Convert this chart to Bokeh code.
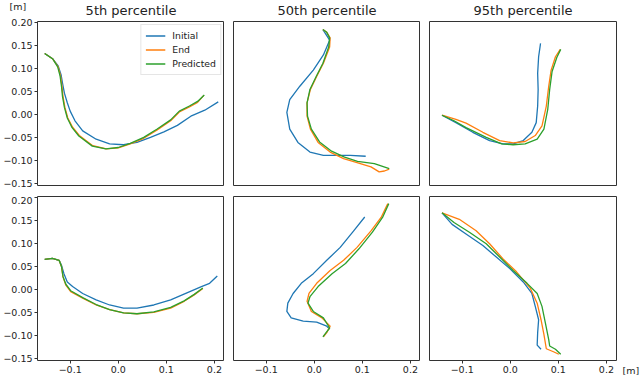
from bokeh.plotting import figure
from bokeh.layouts import gridplot
from bokeh.models import FixedTicker, Legend, LegendItem, Range1d, PrintfTickFormatter, Title
from bokeh.embed import file_html
from bokeh.resources import INLINE

# ---------------- data ----------------
titles = ["5th percentile", "50th percentile", "95th percentile"]
series_names = ["Initial", "End", "Predicted"]
unit_label = "[m]"

x_ticks = [-0.1, 0.0, 0.1, 0.2]
x_tick_labels = ["\u22120.1", "0.0", "0.1", "0.2"]
y_ticks = [-0.15, -0.10, -0.05, 0.0, 0.05, 0.10, 0.15, 0.20]
y_tick_labels = ["\u22120.15", "\u22120.10", "\u22120.05", "0.00", "0.05", "0.10", "0.15", "0.20"]

# row 1, 5th percentile
t1_init_x = [-0.153, -0.136, -0.125, -0.119, -0.116, -0.112, -0.106, -0.100, -0.090, -0.074, -0.046, -0.018, 0.011, 0.039, 0.067, 0.095, 0.123, 0.151, 0.180, 0.208]
t1_init_y = [0.132, 0.120, 0.105, 0.086, 0.068, 0.046, 0.025, 0.007, -0.014, -0.036, -0.054, -0.064, -0.066, -0.061, -0.050, -0.038, -0.024, -0.004, 0.009, 0.027]
t1_end_x = [-0.153, -0.136, -0.125, -0.120, -0.117, -0.115, -0.111, -0.105, -0.095, -0.081, -0.053, -0.025, 0.000, 0.025, 0.053, 0.081, 0.109, 0.127, 0.148, 0.165, 0.178]
t1_end_y = [0.132, 0.120, 0.103, 0.083, 0.060, 0.039, 0.015, -0.008, -0.028, -0.046, -0.068, -0.075, -0.073, -0.064, -0.052, -0.034, -0.014, 0.005, 0.016, 0.026, 0.041]
t1_pred_x = [-0.153, -0.136, -0.126, -0.121, -0.118, -0.116, -0.112, -0.106, -0.096, -0.082, -0.054, -0.026, 0.000, 0.025, 0.053, 0.081, 0.109, 0.127, 0.148, 0.165, 0.179]
t1_pred_y = [0.132, 0.120, 0.103, 0.083, 0.060, 0.039, 0.015, -0.008, -0.029, -0.047, -0.069, -0.075, -0.072, -0.063, -0.050, -0.032, -0.012, 0.007, 0.018, 0.028, 0.042]

# row 1, 50th percentile
t2_init_x = [0.018, 0.032, 0.019, -0.002, -0.030, -0.051, -0.057, -0.051, -0.034, -0.009, 0.019, 0.047, 0.075, 0.107]
t2_init_y = [0.184, 0.161, 0.129, 0.096, 0.061, 0.032, 0.004, -0.032, -0.061, -0.082, -0.089, -0.089, -0.089, -0.091]
t2_end_x = [0.018, 0.026, 0.033, 0.032, 0.019, 0.005, -0.008, -0.015, -0.015, -0.008, 0.008, 0.033, 0.061, 0.089, 0.118, 0.135, 0.146, 0.156]
t2_end_y = [0.184, 0.178, 0.166, 0.146, 0.111, 0.082, 0.054, 0.025, -0.004, -0.032, -0.061, -0.082, -0.096, -0.105, -0.114, -0.125, -0.123, -0.119]
t2_pred_x = [0.018, 0.026, 0.032, 0.030, 0.018, 0.004, -0.009, -0.015, -0.014, -0.006, 0.011, 0.036, 0.063, 0.090, 0.125, 0.156]
t2_pred_y = [0.184, 0.178, 0.166, 0.146, 0.111, 0.082, 0.054, 0.025, -0.004, -0.032, -0.060, -0.080, -0.093, -0.102, -0.107, -0.118]

# row 1, 95th percentile
t3_init_x = [0.063, 0.059, 0.057, 0.058, 0.057, 0.054, 0.045, 0.027, 0.006, -0.015, -0.043, -0.078, -0.113, -0.142]
t3_init_y = [0.154, 0.125, 0.089, 0.054, 0.018, -0.018, -0.039, -0.057, -0.064, -0.064, -0.057, -0.039, -0.018, -0.002]
t3_end_x = [0.104, 0.094, 0.085, 0.080, 0.075, 0.066, 0.052, 0.031, 0.006, -0.022, -0.057, -0.092, -0.113, -0.142]
t3_end_y = [0.141, 0.125, 0.096, 0.061, 0.018, -0.025, -0.046, -0.059, -0.062, -0.057, -0.039, -0.019, -0.011, -0.002]
t3_pred_x = [0.105, 0.097, 0.087, 0.082, 0.078, 0.070, 0.056, 0.031, 0.006, -0.018, -0.050, -0.092, -0.117, -0.142]
t3_pred_y = [0.141, 0.124, 0.093, 0.054, 0.011, -0.032, -0.054, -0.064, -0.066, -0.064, -0.050, -0.029, -0.014, -0.002]

# row 2, 5th percentile
b1_init_x = [-0.153, -0.137, -0.123, -0.118, -0.113, -0.106, -0.095, -0.074, -0.046, -0.018, 0.011, 0.039, 0.074, 0.109, 0.144, 0.173, 0.190, 0.206]
b1_init_y = [0.065, 0.067, 0.063, 0.052, 0.034, 0.016, 0.006, -0.009, -0.023, -0.034, -0.041, -0.041, -0.034, -0.023, -0.007, 0.006, 0.013, 0.029]
b1_end_x = [-0.153, -0.137, -0.123, -0.118, -0.115, -0.109, -0.099, -0.074, -0.046, -0.018, 0.011, 0.039, 0.074, 0.109, 0.137, 0.158, 0.176]
b1_end_y = [0.065, 0.067, 0.063, 0.049, 0.027, 0.009, -0.005, -0.019, -0.034, -0.044, -0.051, -0.053, -0.050, -0.041, -0.026, -0.012, 0.002]
b1_pred_x = [-0.153, -0.137, -0.123, -0.118, -0.115, -0.109, -0.099, -0.074, -0.046, -0.018, 0.011, 0.039, 0.074, 0.109, 0.137, 0.158, 0.176]
b1_pred_y = [0.065, 0.067, 0.063, 0.049, 0.028, 0.011, -0.003, -0.018, -0.033, -0.044, -0.051, -0.053, -0.049, -0.039, -0.025, -0.011, 0.003]

# row 2, 50th percentile
b2_init_x = [0.105, 0.082, 0.054, 0.026, -0.002, -0.027, -0.044, -0.055, -0.057, -0.048, -0.023, 0.005, 0.026, 0.032]
b2_init_y = [0.157, 0.127, 0.091, 0.063, 0.034, 0.013, -0.009, -0.030, -0.048, -0.062, -0.069, -0.071, -0.080, -0.086]
b2_end_x = [0.153, 0.139, 0.118, 0.089, 0.061, 0.033, 0.005, -0.011, -0.015, -0.006, 0.016, 0.033, 0.026, 0.019]
b2_end_y = [0.186, 0.156, 0.127, 0.091, 0.063, 0.041, 0.013, -0.009, -0.026, -0.048, -0.062, -0.080, -0.094, -0.103]
b2_pred_x = [0.155, 0.142, 0.121, 0.093, 0.065, 0.037, 0.008, -0.009, -0.013, -0.002, 0.019, 0.032, 0.023, 0.018]
b2_pred_y = [0.186, 0.156, 0.124, 0.088, 0.056, 0.034, 0.006, -0.016, -0.030, -0.048, -0.062, -0.084, -0.096, -0.103]

# row 2, 95th percentile
b3_init_x = [-0.142, -0.121, -0.092, -0.057, -0.029, -0.001, 0.027, 0.045, 0.052, 0.059, 0.057, 0.056, 0.064]
b3_init_y = [0.166, 0.141, 0.120, 0.095, 0.070, 0.045, 0.016, -0.009, -0.037, -0.066, -0.094, -0.121, -0.130]
b3_end_x = [-0.142, -0.106, -0.071, -0.043, -0.015, 0.013, 0.042, 0.056, 0.064, 0.070, 0.075, 0.091, 0.101]
b3_end_y = [0.166, 0.152, 0.127, 0.099, 0.066, 0.038, 0.002, -0.030, -0.066, -0.098, -0.129, -0.136, -0.141]
b3_pred_x = [-0.142, -0.117, -0.085, -0.050, -0.022, 0.006, 0.035, 0.056, 0.066, 0.073, 0.080, 0.082, 0.094, 0.105]
b3_pred_y = [0.166, 0.145, 0.124, 0.099, 0.070, 0.041, 0.013, -0.009, -0.037, -0.073, -0.109, -0.123, -0.130, -0.141]

panels = [
    [(t1_init_x, t1_init_y, t1_end_x, t1_end_y, t1_pred_x, t1_pred_y),
     (t2_init_x, t2_init_y, t2_end_x, t2_end_y, t2_pred_x, t2_pred_y),
     (t3_init_x, t3_init_y, t3_end_x, t3_end_y, t3_pred_x, t3_pred_y)],
    [(b1_init_x, b1_init_y, b1_end_x, b1_end_y, b1_pred_x, b1_pred_y),
     (b2_init_x, b2_init_y, b2_end_x, b2_end_y, b2_pred_x, b2_pred_y),
     (b3_init_x, b3_init_y, b3_end_x, b3_end_y, b3_pred_x, b3_pred_y)],
]

# ---------------- style ----------------
FONT = "DejaVu Sans"
COLORS = ["#1f77b4", "#ff7f0e", "#2ca02c"]
TXT = "#222222"
W, H = 187, 164
XR = (-0.168, 0.221)
YR = (-0.1545, 0.2015)
TICK_FS = "9.5px"

figs = []
for r in range(2):
    row = []
    for c in range(3):
        p = figure(
            title=None,
            frame_width=W, frame_height=H,
            x_range=Range1d(*XR), y_range=Range1d(*YR),
            x_axis_location="below" if r == 1 else None,
            y_axis_location="left" if c == 0 else None,
            output_backend="svg", toolbar_location=None, tools="",
            min_border_left=35 if c == 0 else 9,
            min_border_right=24 if c == 2 else 0,
            min_border_top=21 if r == 0 else 0,
            min_border_bottom=11 if r == 0 else 18,
            background_fill_color="white", border_fill_color="white",
        )
        p.outline_line_color = "#333333"
        p.outline_line_width = 1
        p.grid.visible = False
        axes = []
        if r == 1:
            axes.append((p.xaxis, x_ticks, x_tick_labels, "%.1f"))
        if c == 0:
            axes.append((p.yaxis, y_ticks, y_tick_labels, "%.2f"))
        for ax, ticks, labels, fmt in axes:
            ax.ticker = FixedTicker(ticks=ticks)
            ax.formatter = PrintfTickFormatter(format=fmt)
            ax.major_label_overrides = dict(zip(ticks, labels))
            ax.axis_line_color = None
            ax.major_tick_in = 0
            ax.major_tick_out = 3
            ax.major_tick_line_color = "#333333"
            ax.minor_tick_line_color = None
            ax.major_label_standoff = 2
            ax.major_label_text_font = FONT
            ax.major_label_text_font_size = TICK_FS
            ax.major_label_text_color = TXT

        d = panels[r][c]
        rends = []
        for k in range(3):
            rends.append(p.line(d[2 * k], d[2 * k + 1], line_color=COLORS[k], line_width=1.3,
                                line_join="round"))

        if r == 0:
            p.add_layout(Title(text=titles[c], align="center", standoff=3, vertical_align="top",
                               text_font=FONT, text_font_size="13px", text_color=TXT,
                               text_font_style="normal"), "above")
        if r == 0 and c == 0:
            # unit label in a zero-size panel just outside the title band
            p.add_layout(Title(text=unit_label, align="left", offset=-28, standoff=-20,
                               vertical_align="bottom",
                               text_font=FONT, text_font_size=TICK_FS, text_color=TXT,
                               text_font_style="normal"), "above")
            legend = Legend(items=[LegendItem(label=series_names[k], renderers=[rends[k]]) for k in range(3)],
                            location="top_right", margin=3, padding=4, spacing=1,
                            glyph_width=20, glyph_height=13, label_height=13, label_standoff=7,
                            label_text_font=FONT, label_text_font_size="9.3px", label_text_color=TXT,
                            border_line_color="#cccccc", border_line_width=1,
                            background_fill_color="white", background_fill_alpha=0.8)
            p.add_layout(legend)
        if r == 1 and c == 2:
            p.add_layout(Title(text=unit_label, align="left", offset=W + 6, standoff=-22,
                               vertical_align="top",
                               text_font=FONT, text_font_size=TICK_FS, text_color=TXT,
                               text_font_style="normal"), "below")
        row.append(p)
    figs.append(row)

grid = gridplot(figs, toolbar_location=None)
open("out.html", "w").write(file_html(grid, INLINE))
